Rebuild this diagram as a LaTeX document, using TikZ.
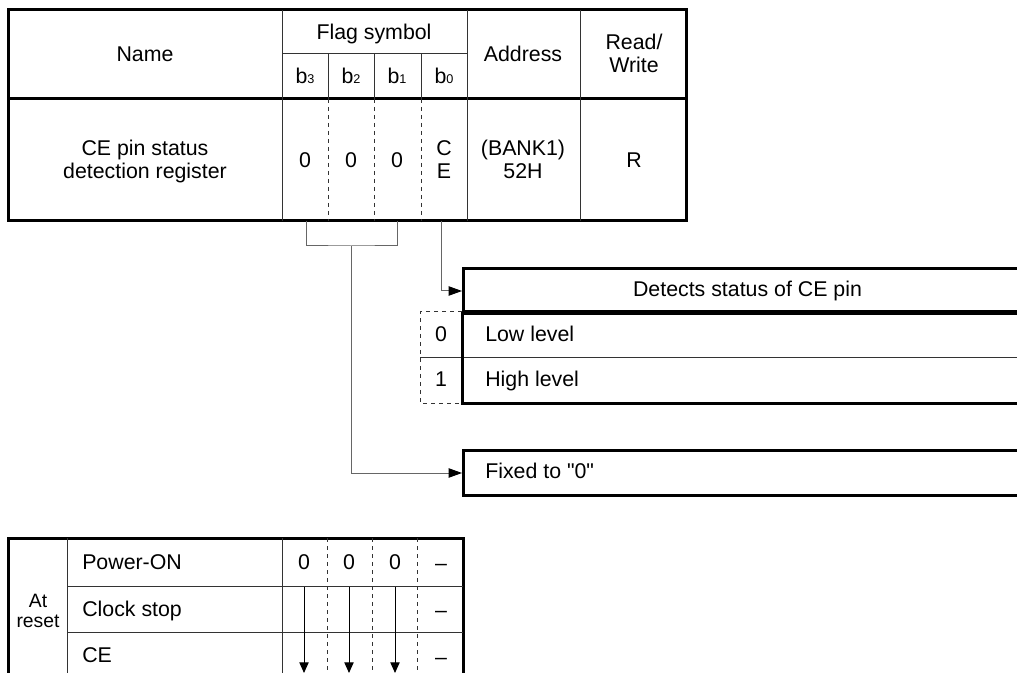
\documentclass[tikz,border=0pt]{standalone}
\usepackage{fontspec}
\setmainfont{Liberation Sans}
\newfontfamily\plainquotes{Liberation Sans}[Ligatures=TeXOff]
\usetikzlibrary{arrows.meta}

\tikzset{
  thickline/.style={line width=2.25pt},
  thinline/.style={line width=0.75pt, draw=black!80},
  cellline/.style={line width=0.75pt, draw=black!80, dash pattern=on 3pt off 3pt},
  box/.style={draw, line width=2.25pt, anchor=north west, minimum width=426pt,
    minimum height=33.75pt, inner sep=0pt, font=\fontsize{16}{18}\selectfont},
  cell/.style={font=\fontsize{16}{17.5}\selectfont, align=center, inner sep=0pt, anchor=base},
  link/.style={line width=0.75pt, draw=black!60, -{Triangle[length=10pt,width=7pt,color=black]}},
  drop/.style={line width=0.75pt, -{Triangle[length=8pt,width=7pt]}},
}
\newcommand{\bitsym}[1]{b{\fontsize{9.5}{9.5}\selectfont #1}}

\begin{document}
\begin{tikzpicture}[x=0.75pt,y=-0.75pt]
  \useasboundingbox (0,0) rectangle (1017,673);

  % Register table
  \draw[thickline] (8,10) rectangle (686,221);
  \draw[thickline] (8,99) -- (686,99);
  \draw[thinline] (282,10) -- (282,221);
  \draw[thinline] (467,10) -- (467,221);
  \draw[thinline] (580,10) -- (580,221);
  \draw[thinline] (282,54) -- (467,54);
  \foreach \x in {328,374,421} {
    \draw[thinline] (\x,54) -- (\x,99);
    \draw[cellline] (\x,99) -- (\x,221);
  }

  \node[cell] (name) at (145,62) {Name};
  \node[cell] (flag) at (374,40) {Flag symbol};
  \foreach \b/\x in {3/305,2/351,1/397,0/444}
    \node[cell] (b\b) at (\x,84) {\bitsym{\b}};
  \node[cell] (addr) at (523,62) {Address};
  \node[cell] (rw) at (634,73) {Read/\\Write};

  \node[cell] (reg) at (145,179) {CE pin status\\detection register};
  \foreach \b/\x in {3/305,2/351,1/397}
    \node[cell] (v\b) at (\x,168) {0};
  \node[cell] (v0) at (444,179) {C\\E};
  \node[cell] (bank) at (523,179) {(BANK1)\\52H};
  \node[cell] (rd) at (634,168) {R};

  \coordinate (b3foot) at (306,221);
  \coordinate (b1foot) at (397,221);
  \coordinate (b0foot) at (441,221);
  \coordinate (join) at (351,246);

  % Bit b0
  \node[box] (detect) at (462,267) {Detects status of CE pin};
  \draw[thickline] (462,312) -- (1040,312);
  \draw[thinline] (420,358) -- (1040,358);
  \draw[thickline] (462,312) -- (462,403) -- (1040,403);
  \draw[cellline] (462,312) -- (420,312) -- (420,403) -- (462,403);
  \node[cell] (lowbit) at (441,342) {0};
  \node[cell] (highbit) at (441,387) {1};
  \node[cell, anchor=base west] (low) at (485,342) {Low level};
  \node[cell, anchor=base west] (high) at (485,387) {High level};

  % Bits b3 to b1
  \node[box] (fixed) at (462,449) {};
  \node[cell, anchor=base west] (fixedtxt) at (485,478) {\plainquotes Fixed to "0"};

  % Connectors
  \draw[link] (b0foot) |- (detect.west);
  \draw[thinline, draw=black!60] (b3foot) |- (join) -| (b1foot);
  \draw[link] (join) |- (fixed.west);

  % At reset
  \draw[thickline] (8,690) -- (8,538) -- (463,538) -- (463,690);
  \draw[thinline] (67,538) -- (67,690);
  \draw[thinline] (282,538) -- (282,690);
  \draw[thinline] (67,586) -- (463,586);
  \draw[thinline] (67,632) -- (463,632);
  \foreach \x in {327,372,417}
    \draw[cellline] (\x,538) -- (\x,690);

  \node[cell, font=\fontsize{14.5}{15}\selectfont] (atreset) at (38,627) {At\\reset};
  \node[cell, anchor=base west] (pon) at (82,569) {Power-ON};
  \node[cell, anchor=base west] (cstop) at (82,616) {Clock stop};
  \node[cell, anchor=base west] (cepin) at (82,662) {CE};
  \foreach \x [count=\i] in {304,349,395} {
    \node[cell] (init\i) at (\x,569) {0};
    \coordinate (from\i) at (\x,587);
    \coordinate (to\i) at (\x,673);
    \draw[drop] (from\i) -- (to\i);
  }
  \foreach \y [count=\i] in {570,617,664}
    \node[cell] (none\i) at (441,\y) {\textendash};

\end{tikzpicture}
\end{document}
